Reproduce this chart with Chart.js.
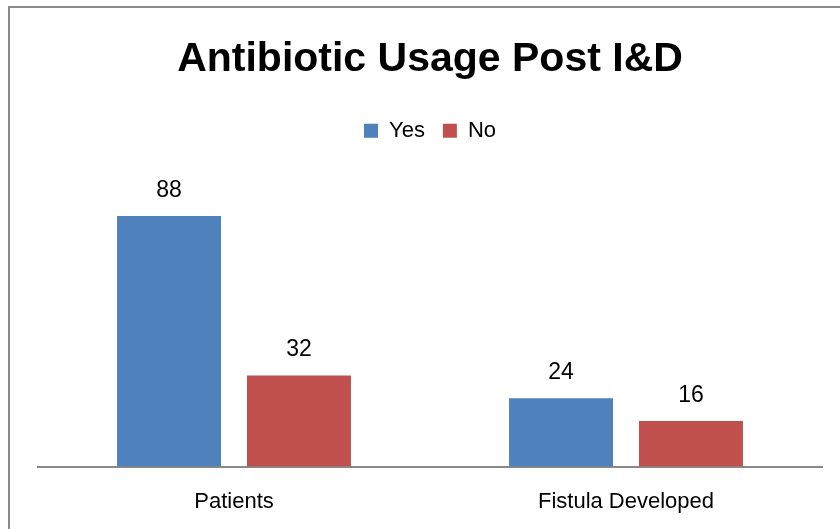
<!DOCTYPE html>
<html>
<head>
<meta charset="utf-8">
<script src="https://cdn.jsdelivr.net/npm/chart.js@4.4.0/dist/chart.umd.min.js"></script>
<style>
    html, body { margin: 0; padding: 0; background: #fff; overflow: hidden; }
    #frame {
        position: absolute; left: 8px; top: 6px;
        width: 860px; height: 540px;
        border-left: 2px solid #8a8a8a; border-top: 2px solid #8a8a8a;
    }
    #wrap { position: absolute; left: 10px; top: 8px; width: 840px; height: 529px; }
</style>
</head>
<body>
<div id="frame"></div>
<div id="wrap"><canvas id="chart"></canvas></div>
<script>
// Dados do gráfico
const categories = ['Patients', 'Fistula Developed'];
const yesValues = [88, 24];
const noValues = [32, 16];
const seriesNames = ['Yes', 'No'];

const colors = {
    yes: '#4F81BD',
    no: '#C0504D',
    axis: '#898989'
};

// Rótulos de valor acima das barras
const valueLabels = {
    id: 'valueLabels',
    afterDatasetsDraw(chart) {
        const ctx = chart.ctx;
        ctx.save();
        ctx.font = '23px "Liberation Sans", Arial, sans-serif';
        ctx.fillStyle = '#000';
        ctx.textAlign = 'center';
        ctx.textBaseline = 'alphabetic';
        chart.data.datasets.forEach((ds, i) => {
            chart.getDatasetMeta(i).data.forEach((bar, j) => {
                ctx.fillText(ds.data[j], bar.x, bar.y - 19);
            });
        });
        ctx.restore();
    }
};

// Espaço extra abaixo da legenda
const legendSpace = {
    id: 'legendSpace',
    beforeInit(chart) {
        const fit = chart.legend.fit;
        chart.legend.fit = function() {
            fit.bind(chart.legend)();
            this.height += 30;
        };
    }
};

const ctx = document.getElementById('chart').getContext('2d');
new Chart(ctx, {
    type: 'bar',
    data: {
        labels: categories,
        datasets: [{
            label: seriesNames[0],
            data: yesValues,
            backgroundColor: colors.yes
        }, {
            label: seriesNames[1],
            data: noValues,
            backgroundColor: colors.no
        }]
    },
    options: {
        responsive: true,
        maintainAspectRatio: false,
        animation: false,
        categoryPercentage: 0.663,
        barPercentage: 0.8,
        layout: {
            padding: { left: 28, right: 28, top: 0, bottom: 0 }
        },
        plugins: {
            title: {
                display: true,
                text: 'Antibiotic Usage Post I&D',
                color: '#000',
                font: { family: '"Liberation Sans", Arial, sans-serif', size: 41, weight: 'bold' },
                padding: { top: 27, bottom: 17.5 }
            },
            legend: {
                position: 'top',
                labels: {
                    color: '#000',
                    boxWidth: 14,
                    boxHeight: 14,
                    padding: 18,
                    font: { family: '"Liberation Sans", Arial, sans-serif', size: 22 }
                }
            },
            tooltip: { enabled: false }
        },
        scales: {
            x: {
                grid: { display: false, drawTicks: false },
                border: { display: true, color: colors.axis, width: 2 },
                ticks: {
                    color: '#000',
                    padding: 22,
                    font: { family: '"Liberation Sans", Arial, sans-serif', size: 22 }
                }
            },
            y: {
                display: false,
                min: 0,
                max: 100
            }
        }
    },
    plugins: [valueLabels, legendSpace]
});
</script>
</body>
</html>
